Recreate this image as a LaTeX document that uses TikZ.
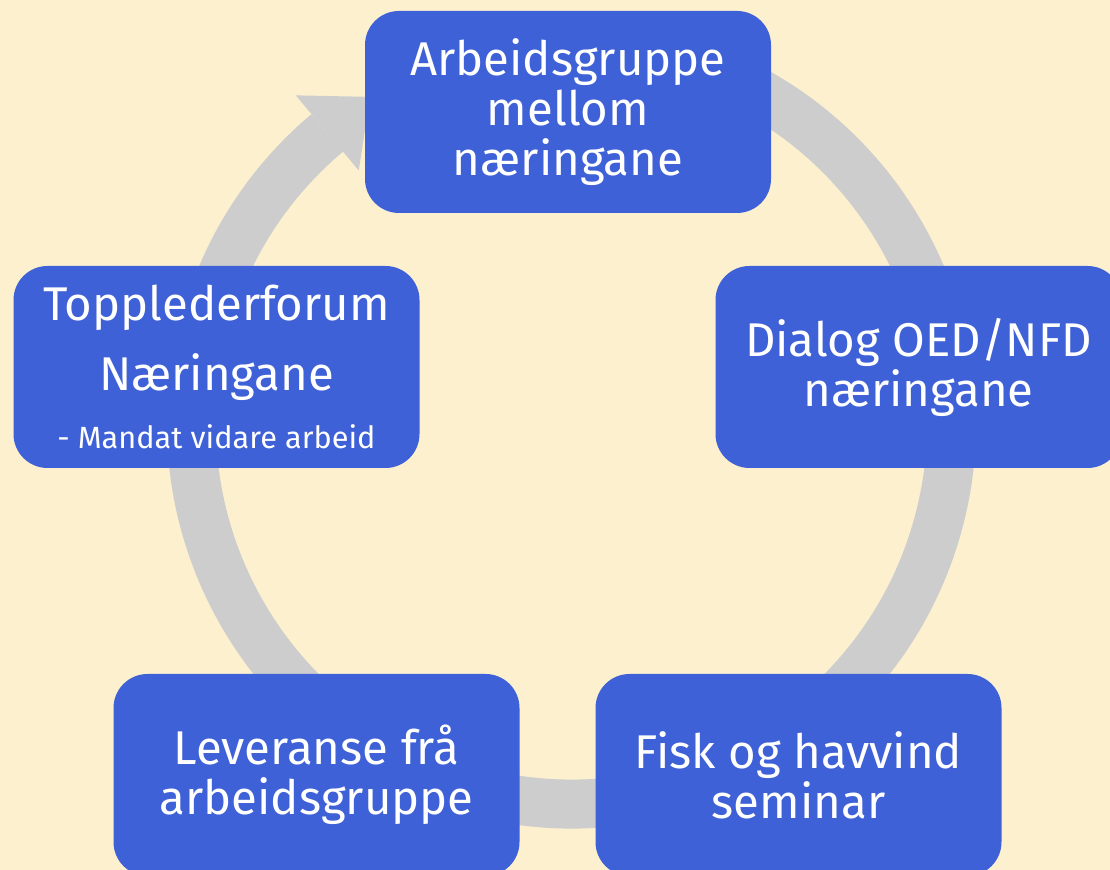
\documentclass[tikz,border=0pt]{standalone}
\usepackage{fontspec}
\setmainfont{Fira Sans}
\usetikzlibrary{calc}
\definecolor{bgcream}{RGB}{252,240,207}
\definecolor{ringgray}{RGB}{205,205,205}
\definecolor{boxblue}{RGB}{63,97,215}
\begin{document}
\begin{tikzpicture}[x=0.75pt, y=0.75pt]
      \tikzset{stage/.style={fill=boxblue, rounded corners=25.5pt, minimum width=304.5pt, minimum height=151.5pt, inner sep=0pt, text=white, align=center, font=\fontsize{35.5}{37.5}\selectfont}}
      \tikzset{ring/.style={draw=ringgray, line width=36.75pt}}
      \useasboundingbox (0,0) rectangle (1110,870);
      \clip (0,0) rectangle (1110,870);
      \fill[bgcream] (0,0) rectangle (1110,870);
%% Ring
      \coordinate (c) at (571.5,446);
      \path[ring] ([shift={(c)}]75:380) arc[start angle=75, end angle=-230, radius=380];
      \coordinate (tip) at ($(c)+(130:380)+(40:56)$);
      \fill[ringgray] ($(c)+(130:429)$) -- ($(c)+(130:331)$) -- (tip) -- cycle;
%% Stages
      	\node[stage] (arbeid) at (568,758) {Arbeidsgruppe\\mellom\\næringane};
      	\node[stage] (dialog) at (918.5,503) {Dialog OED/NFD\\næringane};
    	\node[stage] (seminar) at (798.5,95) {Fisk og havvind\\seminar};
  	    \node[stage] (leveranse) at (316.5,95) {Leveranse frå\\arbeidsgruppe};
  	    \node[stage, font=\fontsize{35.5}{52.5}\selectfont] (forum) at (216.5,503) {Topplederforum\\Næringane\\[-8.5pt]{\fontsize{23}{26}\selectfont - Mandat vidare arbeid}};
	\end{tikzpicture}
\end{document}
